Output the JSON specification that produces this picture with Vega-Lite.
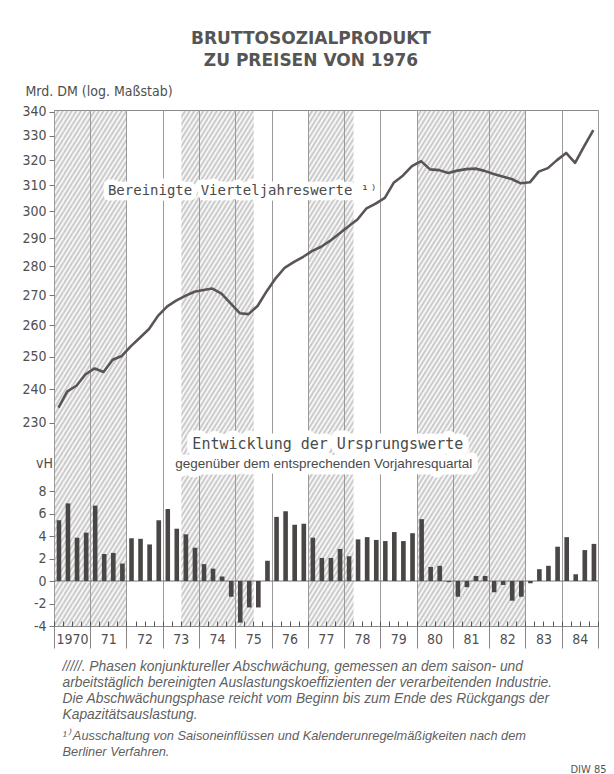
{
  "$schema": "https://vega.github.io/schema/vega-lite/v6.json",
  "width": 544,
  "height": 516,
  "autosize": {"type": "none"},
  "padding": {"left": 54, "top": 110, "right": 16, "bottom": 148},
  "background": "white",
  "config": {
    "view": {"stroke": "#8a8a8a", "strokeWidth": 1},
    "font": "DejaVu Sans",
    "axis": {
      "labelFont": "DejaVu Sans Condensed, Liberation Sans Narrow, DejaVu Sans",
      "labelFontSize": 14,
      "labelColor": "#4f4f4f",
      "tickColor": "#777777",
      "domain": false,
      "grid": false,
      "titleFontWeight": "normal",
      "titleColor": "#4f4f4f"
    }
  },
  "title": {
    "text": ["BRUTTOSOZIALPRODUKT", "ZU PREISEN VON 1976"],
    "font": "DejaVu Sans",
    "fontSize": 17,
    "fontWeight": "bold",
    "color": "#555555",
    "lineHeight": 22,
    "anchor": "middle",
    "dx": -15,
    "offset": 14
  },
  "datasets": {
    "q": [
      {"q": "1970-02-15", "bsp": 234.5, "vh": 5.4, "p": 1},
      {"q": "1970-05-15", "bsp": 239.3, "vh": 6.9, "p": 1},
      {"q": "1970-08-15", "bsp": 241.0, "vh": 3.85, "p": 1},
      {"q": "1970-11-15", "bsp": 244.5, "vh": 4.3, "p": 1},
      {"q": "1971-02-15", "bsp": 246.3, "vh": 6.7, "p": 1},
      {"q": "1971-05-15", "bsp": 245.2, "vh": 2.4, "p": 1},
      {"q": "1971-08-15", "bsp": 249.0, "vh": 2.5, "p": 1},
      {"q": "1971-11-15", "bsp": 250.2, "vh": 1.55, "p": 1},
      {"q": "1972-02-15", "bsp": 253.3, "vh": 3.8, "p": 0},
      {"q": "1972-05-15", "bsp": 256.0, "vh": 3.75, "p": 0},
      {"q": "1972-08-15", "bsp": 258.8, "vh": 3.25, "p": 0},
      {"q": "1972-11-15", "bsp": 263.2, "vh": 5.4, "p": 0},
      {"q": "1973-02-15", "bsp": 266.3, "vh": 6.4, "p": 0},
      {"q": "1973-05-15", "bsp": 268.2, "vh": 4.65, "p": 0},
      {"q": "1973-08-15", "bsp": 269.8, "vh": 4.15, "p": 1},
      {"q": "1973-11-15", "bsp": 271.2, "vh": 2.95, "p": 1},
      {"q": "1974-02-15", "bsp": 271.8, "vh": 1.5, "p": 1},
      {"q": "1974-05-15", "bsp": 272.3, "vh": 1.1, "p": 1},
      {"q": "1974-08-15", "bsp": 270.6, "vh": 0.4, "p": 1},
      {"q": "1974-11-15", "bsp": 267.3, "vh": -1.4, "p": 1},
      {"q": "1975-02-15", "bsp": 264.0, "vh": -3.7, "p": 1},
      {"q": "1975-05-15", "bsp": 263.7, "vh": -2.35, "p": 1},
      {"q": "1975-08-15", "bsp": 266.5, "vh": -2.35, "p": 0},
      {"q": "1975-11-15", "bsp": 271.5, "vh": 1.8, "p": 0},
      {"q": "1976-02-15", "bsp": 276.0, "vh": 5.7, "p": 0},
      {"q": "1976-05-15", "bsp": 279.6, "vh": 6.2, "p": 0},
      {"q": "1976-08-15", "bsp": 281.6, "vh": 5.0, "p": 0},
      {"q": "1976-11-15", "bsp": 283.4, "vh": 5.1, "p": 0},
      {"q": "1977-02-15", "bsp": 285.5, "vh": 3.85, "p": 1},
      {"q": "1977-05-15", "bsp": 287.0, "vh": 2.05, "p": 1},
      {"q": "1977-08-15", "bsp": 289.2, "vh": 2.05, "p": 1},
      {"q": "1977-11-15", "bsp": 291.8, "vh": 2.85, "p": 1},
      {"q": "1978-02-15", "bsp": 294.5, "vh": 2.2, "p": 1},
      {"q": "1978-05-15", "bsp": 297.0, "vh": 3.7, "p": 0},
      {"q": "1978-08-15", "bsp": 301.2, "vh": 3.9, "p": 0},
      {"q": "1978-11-15", "bsp": 303.0, "vh": 3.65, "p": 0},
      {"q": "1979-02-15", "bsp": 305.2, "vh": 3.55, "p": 0},
      {"q": "1979-05-15", "bsp": 311.0, "vh": 4.35, "p": 0},
      {"q": "1979-08-15", "bsp": 313.8, "vh": 3.55, "p": 0},
      {"q": "1979-11-15", "bsp": 317.6, "vh": 4.25, "p": 0},
      {"q": "1980-02-15", "bsp": 319.6, "vh": 5.5, "p": 1},
      {"q": "1980-05-15", "bsp": 316.3, "vh": 1.25, "p": 1},
      {"q": "1980-08-15", "bsp": 316.0, "vh": 1.35, "p": 1},
      {"q": "1980-11-15", "bsp": 314.9, "vh": -0.1, "p": 1},
      {"q": "1981-02-15", "bsp": 315.8, "vh": -1.4, "p": 1},
      {"q": "1981-05-15", "bsp": 316.4, "vh": -0.55, "p": 1},
      {"q": "1981-08-15", "bsp": 316.6, "vh": 0.45, "p": 1},
      {"q": "1981-11-15", "bsp": 315.7, "vh": 0.45, "p": 1},
      {"q": "1982-02-15", "bsp": 314.5, "vh": -1.0, "p": 1},
      {"q": "1982-05-15", "bsp": 313.5, "vh": -0.35, "p": 1},
      {"q": "1982-08-15", "bsp": 312.5, "vh": -1.75, "p": 1},
      {"q": "1982-11-15", "bsp": 310.8, "vh": -1.4, "p": 1},
      {"q": "1983-02-15", "bsp": 311.2, "vh": -0.2, "p": 0},
      {"q": "1983-05-15", "bsp": 315.4, "vh": 1.05, "p": 0},
      {"q": "1983-08-15", "bsp": 316.8, "vh": 1.35, "p": 0},
      {"q": "1983-11-15", "bsp": 320.0, "vh": 3.05, "p": 0},
      {"q": "1984-02-15", "bsp": 322.9, "vh": 3.9, "p": 0},
      {"q": "1984-05-15", "bsp": 318.9, "vh": 0.6, "p": 0},
      {"q": "1984-08-15", "bsp": 325.7, "vh": 2.75, "p": 0},
      {"q": "1984-11-15", "bsp": 332.3, "vh": 3.3, "p": 0}
    ],
    "lab1": [
      {"t": "1971-06-28", "v": 307.8, "label": "Bereinigte Vierteljahreswerte ¹⁾"}
    ],
    "lab2": [
      {"t": "1977-07-21", "v": 12.18, "line": 1, "label": "Entwicklung der Ursprungswerte"},
      {"t": "1977-06-10", "v": 10.4, "line": 2, "label": "gegenüber dem entsprechenden Vorjahresquartal"}
    ]
  },
  "layer": [
    {
      "data": {"name": "q"},
      "transform": [{"filter": "datum.p == 1"}],
      "mark": {
        "type": "rect",
        "strokeWidth": 0,
        "fill": {
          "gradient": "linear",
          "x1": 0, "y1": 0, "x2": 0.0395, "y2": 1.4049,
          "stops": [
            {"offset": 0, "color": "#9999"}, {"offset": 0.005, "color": "#9990"},
            {"offset": 0.01, "color": "#9999"}, {"offset": 0.015, "color": "#9990"},
            {"offset": 0.02, "color": "#9999"}, {"offset": 0.025, "color": "#9990"},
            {"offset": 0.03, "color": "#9999"}, {"offset": 0.035, "color": "#9990"},
            {"offset": 0.04, "color": "#9999"}, {"offset": 0.045, "color": "#9990"},
            {"offset": 0.05, "color": "#9999"}, {"offset": 0.055, "color": "#9990"},
            {"offset": 0.06, "color": "#9999"}, {"offset": 0.065, "color": "#9990"},
            {"offset": 0.07, "color": "#9999"}, {"offset": 0.075, "color": "#9990"},
            {"offset": 0.08, "color": "#9999"}, {"offset": 0.085, "color": "#9990"},
            {"offset": 0.09, "color": "#9999"}, {"offset": 0.095, "color": "#9990"},
            {"offset": 0.1, "color": "#9999"}, {"offset": 0.105, "color": "#9990"},
            {"offset": 0.11, "color": "#9999"}, {"offset": 0.115, "color": "#9990"},
            {"offset": 0.12, "color": "#9999"}, {"offset": 0.125, "color": "#9990"},
            {"offset": 0.13, "color": "#9999"}, {"offset": 0.135, "color": "#9990"},
            {"offset": 0.14, "color": "#9999"}, {"offset": 0.145, "color": "#9990"},
            {"offset": 0.15, "color": "#9999"}, {"offset": 0.155, "color": "#9990"},
            {"offset": 0.16, "color": "#9999"}, {"offset": 0.165, "color": "#9990"},
            {"offset": 0.17, "color": "#9999"}, {"offset": 0.175, "color": "#9990"},
            {"offset": 0.18, "color": "#9999"}, {"offset": 0.185, "color": "#9990"},
            {"offset": 0.19, "color": "#9999"}, {"offset": 0.195, "color": "#9990"},
            {"offset": 0.2, "color": "#9999"}, {"offset": 0.205, "color": "#9990"},
            {"offset": 0.21, "color": "#9999"}, {"offset": 0.215, "color": "#9990"},
            {"offset": 0.22, "color": "#9999"}, {"offset": 0.225, "color": "#9990"},
            {"offset": 0.23, "color": "#9999"}, {"offset": 0.235, "color": "#9990"},
            {"offset": 0.24, "color": "#9999"}, {"offset": 0.245, "color": "#9990"},
            {"offset": 0.25, "color": "#9999"}, {"offset": 0.255, "color": "#9990"},
            {"offset": 0.26, "color": "#9999"}, {"offset": 0.265, "color": "#9990"},
            {"offset": 0.27, "color": "#9999"}, {"offset": 0.275, "color": "#9990"},
            {"offset": 0.28, "color": "#9999"}, {"offset": 0.285, "color": "#9990"},
            {"offset": 0.29, "color": "#9999"}, {"offset": 0.295, "color": "#9990"},
            {"offset": 0.3, "color": "#9999"}, {"offset": 0.305, "color": "#9990"},
            {"offset": 0.31, "color": "#9999"}, {"offset": 0.315, "color": "#9990"},
            {"offset": 0.32, "color": "#9999"}, {"offset": 0.325, "color": "#9990"},
            {"offset": 0.33, "color": "#9999"}, {"offset": 0.335, "color": "#9990"},
            {"offset": 0.34, "color": "#9999"}, {"offset": 0.345, "color": "#9990"},
            {"offset": 0.35, "color": "#9999"}, {"offset": 0.355, "color": "#9990"},
            {"offset": 0.36, "color": "#9999"}, {"offset": 0.365, "color": "#9990"},
            {"offset": 0.37, "color": "#9999"}, {"offset": 0.375, "color": "#9990"},
            {"offset": 0.38, "color": "#9999"}, {"offset": 0.385, "color": "#9990"},
            {"offset": 0.39, "color": "#9999"}, {"offset": 0.395, "color": "#9990"},
            {"offset": 0.4, "color": "#9999"}, {"offset": 0.405, "color": "#9990"},
            {"offset": 0.41, "color": "#9999"}, {"offset": 0.415, "color": "#9990"},
            {"offset": 0.42, "color": "#9999"}, {"offset": 0.425, "color": "#9990"},
            {"offset": 0.43, "color": "#9999"}, {"offset": 0.435, "color": "#9990"},
            {"offset": 0.44, "color": "#9999"}, {"offset": 0.445, "color": "#9990"},
            {"offset": 0.45, "color": "#9999"}, {"offset": 0.455, "color": "#9990"},
            {"offset": 0.46, "color": "#9999"}, {"offset": 0.465, "color": "#9990"},
            {"offset": 0.47, "color": "#9999"}, {"offset": 0.475, "color": "#9990"},
            {"offset": 0.48, "color": "#9999"}, {"offset": 0.485, "color": "#9990"},
            {"offset": 0.49, "color": "#9999"}, {"offset": 0.495, "color": "#9990"},
            {"offset": 0.5, "color": "#9999"}, {"offset": 0.505, "color": "#9990"},
            {"offset": 0.51, "color": "#9999"}, {"offset": 0.515, "color": "#9990"},
            {"offset": 0.52, "color": "#9999"}, {"offset": 0.525, "color": "#9990"},
            {"offset": 0.53, "color": "#9999"}, {"offset": 0.535, "color": "#9990"},
            {"offset": 0.54, "color": "#9999"}, {"offset": 0.545, "color": "#9990"},
            {"offset": 0.55, "color": "#9999"}, {"offset": 0.555, "color": "#9990"},
            {"offset": 0.56, "color": "#9999"}, {"offset": 0.565, "color": "#9990"},
            {"offset": 0.57, "color": "#9999"}, {"offset": 0.575, "color": "#9990"},
            {"offset": 0.58, "color": "#9999"}, {"offset": 0.585, "color": "#9990"},
            {"offset": 0.59, "color": "#9999"}, {"offset": 0.595, "color": "#9990"},
            {"offset": 0.6, "color": "#9999"}, {"offset": 0.605, "color": "#9990"},
            {"offset": 0.61, "color": "#9999"}, {"offset": 0.615, "color": "#9990"},
            {"offset": 0.62, "color": "#9999"}, {"offset": 0.625, "color": "#9990"},
            {"offset": 0.63, "color": "#9999"}, {"offset": 0.635, "color": "#9990"},
            {"offset": 0.64, "color": "#9999"}, {"offset": 0.645, "color": "#9990"},
            {"offset": 0.65, "color": "#9999"}, {"offset": 0.655, "color": "#9990"},
            {"offset": 0.66, "color": "#9999"}, {"offset": 0.665, "color": "#9990"},
            {"offset": 0.67, "color": "#9999"}, {"offset": 0.675, "color": "#9990"},
            {"offset": 0.68, "color": "#9999"}, {"offset": 0.685, "color": "#9990"},
            {"offset": 0.69, "color": "#9999"}, {"offset": 0.695, "color": "#9990"},
            {"offset": 0.7, "color": "#9999"}, {"offset": 0.705, "color": "#9990"},
            {"offset": 0.71, "color": "#9999"}, {"offset": 0.715, "color": "#9990"},
            {"offset": 0.72, "color": "#9999"}, {"offset": 0.725, "color": "#9990"},
            {"offset": 0.73, "color": "#9999"}, {"offset": 0.735, "color": "#9990"}
          ]
        }
      },
      "encoding": {
        "x": {
          "field": "q", "type": "temporal", "timeUnit": "yearquarter",
          "scale": {"domain": [{"year": 1970, "month": 1, "date": 1}, {"year": 1985, "month": 1, "date": 1}]},
          "axis": {
            "orient": "bottom",
            "zindex": 1,
            "offset": -5,
            "tickCount": {"interval": "month", "step": 3},
            "ticks": true,
            "tickSize": 5,
            "tickWidth": 1,
            "tickColor": "#555555",
            "labels": false,
            "domain": false,
            "grid": false,
            "title": ["¹⁾ Ausschaltung von Saisoneinflüssen und Kalenderunregelmäßigkeiten nach dem", "Berliner Verfahren."],
            "titleX": 8,
            "titleY": 108,
            "titleAlign": "left",
            "titleBaseline": "top",
            "titleFont": "Liberation Sans",
            "titleFontStyle": "italic",
            "titleFontSize": 12.8,
            "titleFontWeight": "normal",
            "titleColor": "#5f5f5f",
            "titleLineHeight": 16,
            "titleLimit": 1000
          }
        }
      }
    },
    {
      "data": {"name": "q"},
      "mark": {"type": "line", "stroke": "#5b5454", "strokeWidth": 2.6, "strokeJoin": "round"},
      "encoding": {
        "x": {
          "field": "q", "type": "temporal",
          "scale": {"domain": [{"year": 1970, "month": 1, "date": 1}, {"year": 1985, "month": 1, "date": 1}]},
          "axis": {
            "orient": "bottom",
            "labels": false, "ticks": false, "domain": false, "grid": false,
            "title": "DIW 85",
            "titleX": 552, "titleY": 146,
            "titleAlign": "right", "titleBaseline": "alphabetic",
            "titleFont": "DejaVu Sans Condensed, DejaVu Sans",
            "titleFontSize": 11,
            "titleColor": "#555555"
          }
        },
        "y": {
          "field": "bsp", "type": "quantitative",
          "scale": {"type": "log", "domain": [178.2, 340.8], "nice": false, "zero": false},
          "axis": {
            "orient": "left",
            "values": [230, 240, 250, 260, 270, 280, 290, 300, 310, 320, 330, 340],
            "format": "d",
            "tickSize": 5,
            "labelPadding": 3,
            "title": "Mrd. DM (log. Maßstab)",
            "titleAngle": 0,
            "titleX": -29,
            "titleY": -19,
            "titleAlign": "left",
            "titleBaseline": "middle",
            "titleFont": "DejaVu Sans Condensed, Liberation Sans Narrow, DejaVu Sans",
            "titleFontSize": 14
          }
        }
      }
    },
    {
      "data": {"name": "lab1"},
      "mark": {"type": "text", "align": "left", "baseline": "middle", "font": "DejaVu Sans Mono", "fontSize": 14, "fill": "white", "stroke": "white", "strokeWidth": 11, "strokeJoin": "round"},
      "encoding": {
        "x": {"field": "t", "type": "temporal", "axis": null},
        "y": {"field": "v", "type": "quantitative", "scale": {"type": "log", "domain": [178.2, 340.8], "nice": false, "zero": false}, "axis": null},
        "text": {"field": "label"}
      }
    },
    {
      "data": {"name": "lab1"},
      "mark": {"type": "text", "align": "left", "baseline": "middle", "font": "DejaVu Sans Mono", "fontSize": 14, "fill": "#4a4a4a"},
      "encoding": {
        "x": {"field": "t", "type": "temporal", "axis": null},
        "y": {"field": "v", "type": "quantitative", "scale": {"type": "log", "domain": [178.2, 340.8], "nice": false, "zero": false}, "axis": null},
        "text": {"field": "label"}
      }
    },
    {
      "data": {"values": [{}]},
      "mark": {"type": "rule", "stroke": "#777777", "strokeWidth": 1},
      "encoding": {"y": {"datum": 0, "type": "quantitative", "scale": {"domain": [-4, 41.87], "nice": false, "zero": false}, "axis": null}}
    },
    {
      "data": {"name": "q"},
      "mark": {"type": "bar", "fill": "#4a4646", "width": {"band": 0.62}},
      "encoding": {
        "x": {
          "field": "q", "type": "temporal", "timeUnit": "yearquarter",
          "scale": {"domain": [{"year": 1970, "month": 1, "date": 1}, {"year": 1985, "month": 1, "date": 1}]},
          "axis": {
            "orient": "bottom",
            "values": [{"year": 1970}, {"year": 1971}, {"year": 1972}, {"year": 1973}, {"year": 1974}, {"year": 1975}, {"year": 1976}, {"year": 1977}, {"year": 1978}, {"year": 1979}, {"year": 1980}, {"year": 1981}, {"year": 1982}, {"year": 1983}, {"year": 1984}, {"year": 1985}],
            "grid": true, "gridColor": "#9a9a9a", "gridWidth": 1,
            "ticks": true, "tickSize": 22, "tickColor": "#888888",
            "labelExpr": "year(datum.value) == 1985 ? '' : (year(datum.value) == 1970 ? '1970' : timeFormat(datum.value, '%y'))",
            "labelOffset": 18,
            "labelPadding": -16,
            "labelAlign": "center",
            "labelBaseline": "top",
            "labelFlush": false,
            "labelOverlap": false,
            "labelBound": false,
            "domain": false,
            "title": ["/////. Phasen konjunktureller Abschwächung, gemessen an dem saison-  und", "arbeitstäglich bereinigten Auslastungskoeffizienten der verarbeitenden Industrie.", "Die Abschwächungsphase reicht vom Beginn bis zum Ende  des Rückgangs der", "Kapazitätsauslastung."],
            "titleX": 8,
            "titleY": 33,
            "titleAlign": "left",
            "titleBaseline": "top",
            "titleFont": "Liberation Sans",
            "titleFontStyle": "italic",
            "titleFontSize": 13.8,
            "titleFontWeight": "normal",
            "titleColor": "#5f5f5f",
            "titleLineHeight": 16.2,
            "titleLimit": 1000
          }
        },
        "y": {
          "field": "vh", "type": "quantitative",
          "scale": {"domain": [-4, 41.87], "nice": false, "zero": false},
          "axis": {
            "orient": "left",
            "values": [-4, -2, 0, 2, 4, 6, 8],
            "labelExpr": "'' + datum.value",
            "tickSize": 5,
            "labelPadding": 3,
            "title": "vH",
            "titleAngle": 0,
            "titleX": -10,
            "titleY": 353,
            "titleAlign": "center",
            "titleBaseline": "middle",
            "titleFont": "DejaVu Sans Condensed, Liberation Sans Narrow, DejaVu Sans",
            "titleFontSize": 14
          }
        }
      }
    },
    {
      "data": {"name": "lab2"},
      "transform": [{"filter": "datum.line == 1"}],
      "mark": {"type": "text", "align": "center", "baseline": "middle", "font": "DejaVu Sans Mono", "fontSize": 15, "fill": "white", "stroke": "white", "strokeWidth": 13, "strokeJoin": "round"},
      "encoding": {
        "x": {"field": "t", "type": "temporal", "axis": null},
        "y": {"field": "v", "type": "quantitative", "scale": {"domain": [-4, 41.87], "nice": false, "zero": false}, "axis": null},
        "text": {"field": "label"}
      }
    },
    {
      "data": {"name": "lab2"},
      "transform": [{"filter": "datum.line == 2"}],
      "mark": {"type": "text", "align": "center", "baseline": "middle", "font": "Liberation Sans", "fontSize": 13.5, "fill": "white", "stroke": "white", "strokeWidth": 13, "strokeJoin": "round"},
      "encoding": {
        "x": {"field": "t", "type": "temporal", "axis": null},
        "y": {"field": "v", "type": "quantitative", "scale": {"domain": [-4, 41.87], "nice": false, "zero": false}, "axis": null},
        "text": {"field": "label"}
      }
    },
    {
      "data": {"name": "lab2"},
      "transform": [{"filter": "datum.line == 1"}],
      "mark": {"type": "text", "align": "center", "baseline": "middle", "font": "DejaVu Sans Mono", "fontSize": 15, "fill": "#4a4a4a"},
      "encoding": {
        "x": {"field": "t", "type": "temporal", "axis": null},
        "y": {"field": "v", "type": "quantitative", "scale": {"domain": [-4, 41.87], "nice": false, "zero": false}, "axis": null},
        "text": {"field": "label"}
      }
    },
    {
      "data": {"name": "lab2"},
      "transform": [{"filter": "datum.line == 2"}],
      "mark": {"type": "text", "align": "center", "baseline": "middle", "font": "Liberation Sans", "fontSize": 13.5, "fill": "#4a4a4a"},
      "encoding": {
        "x": {"field": "t", "type": "temporal", "axis": null},
        "y": {"field": "v", "type": "quantitative", "scale": {"domain": [-4, 41.87], "nice": false, "zero": false}, "axis": null},
        "text": {"field": "label"}
      }
    }
  ],
  "resolve": {"scale": {"y": "independent"}, "axis": {"x": "independent", "y": "independent"}}
}
